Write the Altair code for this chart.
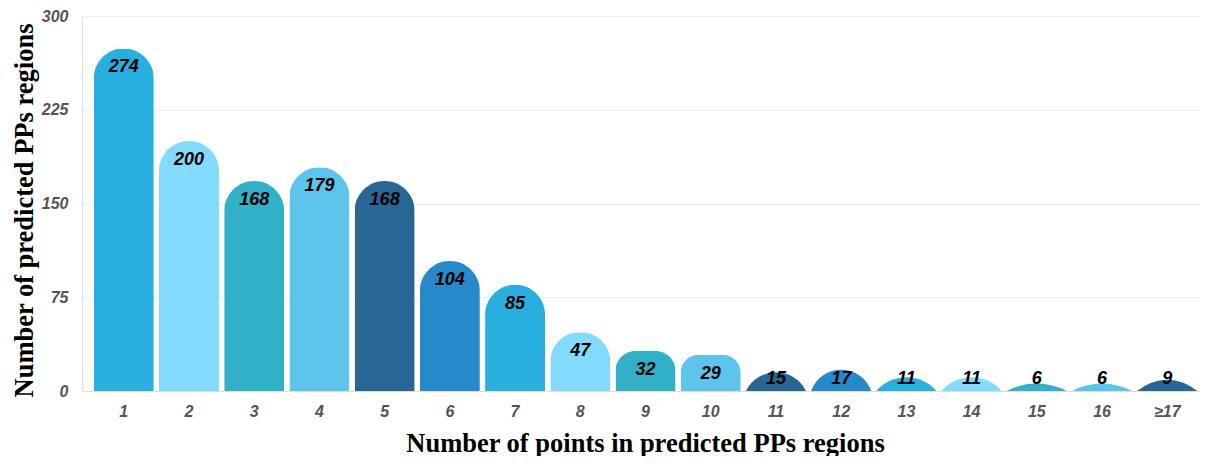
import altair as alt
import pandas as pd

categories = ["1", "2", "3", "4", "5", "6", "7", "8", "9", "10", "11", "12",
              "13", "14", "15", "16", "≥17"]
counts = [274, 200, 168, 179, 168, 104, 85, 47, 32, 29, 15, 17, 11, 11, 6, 6, 9]
palette = ["#29AFDF", "#82DBFC", "#32B0C8", "#5DC4EC", "#286795", "#2589CA"]

PLOT_W, PLOT_H, RANGE_W = 1118, 375, 1127
YMAX = 300
PX = PLOT_H / YMAX          # pixels per data unit
HALF = 30                   # half bar width in pixels

df = pd.DataFrame({"cat": categories, "count": counts})
bar_colors = [palette[i % len(palette)] for i in range(len(categories))]
color_enc = alt.Color("cat:N", scale=alt.Scale(domain=categories, range=bar_colors), legend=None)

x_scale = alt.Scale(range=[0, RANGE_W], paddingInner=0.08, paddingOuter=0.18)

x_enc = alt.X(
    "cat:N",
    sort=categories,
    scale=x_scale,
    axis=alt.Axis(
        title="Number of points in predicted PPs regions",
        titleFont="Liberation Serif", titleFontSize=26.5, titleFontWeight="bold",
        titleColor="#000000", titleX=563, titleY=60, titleAlign="center",
        titleBaseline="alphabetic", titleAnchor="start",
        labelFont="Liberation Sans", labelFontStyle="italic", labelFontSize=16,
        labelFontWeight="bold", labelColor="#555555", labelAngle=0, labelPadding=12,
        ticks=False, domainColor="#dddddd", grid=False,
    ),
)

y_scale = alt.Scale(domain=[0, YMAX], nice=False)
y_enc = alt.Y(
    "count:Q",
    scale=y_scale,
    axis=alt.Axis(
        values=[0, 75, 150, 225, 300],
        title="Number of predicted PPs regions",
        titleFont="Liberation Serif", titleFontSize=26.5, titleFontWeight="bold",
        titleColor="#000000", titleAngle=-90, titleX=-50, titleY=194,
        titleAlign="center", titleBaseline="alphabetic", titleAnchor="start",
        labelFont="Liberation Sans", labelFontStyle="italic", labelFontSize=16,
        labelFontWeight="bold", labelColor="#555555", labelPadding=14,
        ticks=False, domainColor="#dddddd", gridColor="#eeeeee",
    ),
)

# tall bars: rounded top with a full half-circle
bars = alt.Chart(df).transform_filter(
    f"datum.count * {PX} >= {HALF}"
).mark_bar(
    cornerRadiusTopLeft=HALF, cornerRadiusTopRight=HALF
).encode(x=x_enc, y=y_enc, color=color_enc)

# short bars: dome drawn as a circular segment clipped at the baseline
domes = alt.Chart(df).transform_filter(
    f"datum.count * {PX} < {HALF}"
).transform_calculate(
    h=f"datum.count * {PX}"
).transform_calculate(
    R=f"({HALF} * {HALF} + datum.h * datum.h) / (2 * datum.h)"
).transform_calculate(
    cy=f"datum.count - datum.R / {PX}",
    t0=f"2 * PI - asin({HALF} / datum.R)",
    t1=f"2 * PI + asin({HALF} / datum.R)",
).mark_arc(clip=True).encode(
    x=alt.X("cat:N", sort=categories, scale=x_scale),
    y=alt.Y("cy:Q", scale=y_scale),
    radius=alt.Radius("R:Q", scale=None),
    theta=alt.Theta("t0:Q", scale=None),
    theta2=alt.Theta2("t1:Q"),
    color=color_enc,
)

labels = alt.Chart(df).transform_calculate(
    ypos="max(datum.count - 15, 9.5)"
).mark_text(
    font="Liberation Sans", fontStyle="italic", fontWeight="bold", fontSize=18,
    color="#000000", baseline="middle", align="center",
).encode(
    x=alt.X("cat:N", sort=categories, scale=x_scale),
    y=alt.Y("ypos:Q", scale=y_scale),
    text=alt.Text("count:Q"),
)

chart = alt.layer(bars, domes, labels).properties(
    width=PLOT_W, height=PLOT_H,
    autosize=alt.AutoSizeParams(type="none"),
    padding={"left": 74, "top": 8, "right": 0, "bottom": 65},
).configure_view(stroke=None).configure(background="white")

chart.save("out.html", embed_options={"renderer": "svg", "actions": False})
